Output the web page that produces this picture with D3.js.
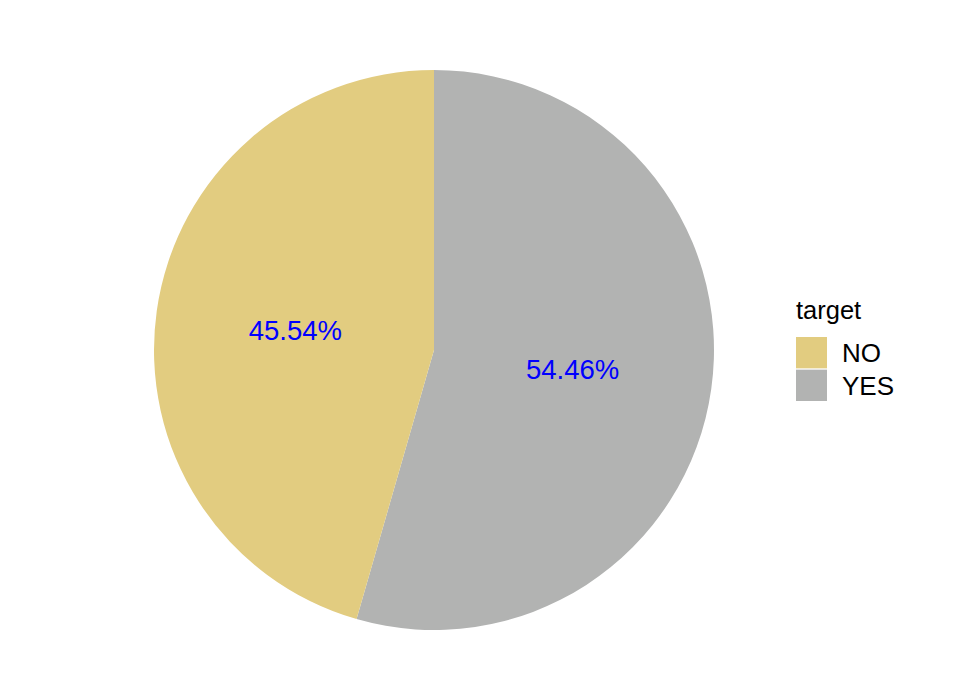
<!DOCTYPE html>
<html><head><meta charset="utf-8">
<script src="https://cdn.jsdelivr.net/npm/d3@7"></script>
<style>body{margin:0;background:#fff}svg{display:block}text{font-family:"Liberation Sans",Arial,sans-serif}</style>
</head><body>
<svg id="c" width="980" height="700"></svg>
<script>
const categories = ["YES", "NO"];
const values = [54.46, 45.54];
const legendOrder = ["NO", "YES"];
const colors = {NO: "#E2CC80", YES: "#B2B3B2"};
const legendTitle = "target";

const svg = d3.select("#c");
const cx = 434, cy = 350, r = 280;
const data = categories.map((c, i) => ({cat: c, val: values[i]}));
const pie = d3.pie().sort(null).value(d => d.val);
const arcs = pie(data);
const arc = d3.arc().innerRadius(0).outerRadius(r);
const labelArc = d3.arc().innerRadius(r * 0.5).outerRadius(r * 0.5);
const g = svg.append("g").attr("transform", `translate(${cx},${cy})`);
g.selectAll("path").data(arcs).join("path")
  .attr("d", arc).attr("fill", d => colors[d.data.cat]);
g.selectAll("text").data(arcs).join("text")
  .attr("transform", d => `translate(${labelArc.centroid(d)})`)
  .attr("text-anchor", "middle").attr("dy", "0.36em")
  .attr("fill", "#0000FF").attr("font-size", 27.5)
  .text(d => d.data.val.toFixed(2) + "%");

const lg = svg.append("g").attr("transform", "translate(796,0)");
lg.append("text").attr("x", 0).attr("y", 319).attr("font-size", 25.5).attr("fill", "#000").text(legendTitle);
const ky = d3.scaleBand().domain(legendOrder).range([337, 401]).paddingInner(0.04);
legendOrder.forEach(k => {
  lg.append("rect").attr("x", 0).attr("y", ky(k)).attr("width", 31).attr("height", ky.bandwidth()).attr("fill", colors[k]);
  lg.append("text").attr("x", 46).attr("y", ky(k) + ky.bandwidth() / 2).attr("dy", "0.36em")
    .attr("font-size", 26).attr("fill", "#000").text(k);
});
</script>
</body></html>
